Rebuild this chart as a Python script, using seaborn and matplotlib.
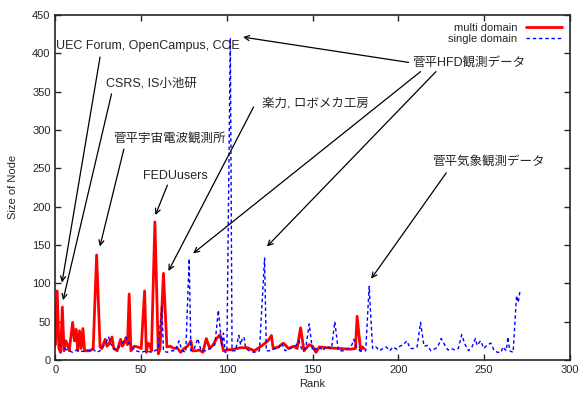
import matplotlib
matplotlib.use("Agg")
import matplotlib.pyplot as plt
import seaborn as sns
import pandas as pd

# ---- data ----
multi_rank = [0, 1, 2, 3, 4, 5, 6, 7, 8, 9, 10, 11, 12, 13, 14, 15, 16, 17, 18, 20, 22, 24, 26, 27,
              29, 30, 31, 33, 34, 36, 38, 39, 40, 41, 42, 43, 44, 46, 48, 50, 52, 53, 54, 55, 56,
              58, 60, 61, 63, 65, 67, 69, 71, 73, 75, 77, 79, 80, 82, 84, 86, 88, 90, 92, 94, 96,
              98, 100, 104, 108, 112, 116, 120, 124, 126, 127, 130, 133, 136, 139, 141, 143, 145,
              148, 150, 152, 154, 158, 166, 172, 175, 176, 178, 179, 180]
multi_size = [20, 90, 15, 10, 69, 12, 25, 20, 12, 30, 49, 25, 40, 12, 38, 15, 41, 12, 12, 12, 15, 137, 17, 15,
              27, 18, 20, 30, 15, 12, 27, 18, 22, 28, 20, 86, 12, 18, 17, 15, 90, 10, 22, 20, 12,
              180, 8, 15, 113, 17, 18, 15, 16, 10, 15, 18, 25, 12, 12, 13, 10, 28, 15, 20, 28, 33,
              12, 13, 14, 16, 16, 12, 18, 25, 32, 15, 17, 22, 15, 18, 15, 42, 12,
              20, 18, 10, 17, 16, 15, 14, 15, 57, 12, 17, 15]

single_rank = [2, 4, 6, 8, 10, 12, 14, 16, 18, 20, 22, 24, 26, 28, 30, 31, 32, 34, 36, 38, 40, 41, 43, 45,
               47, 50, 53, 56, 58, 60, 62, 63, 65, 67, 70, 72, 74, 76, 78, 79, 81, 83, 85, 88, 90, 93,
               95, 97, 98, 99, 100, 102, 103, 105, 107, 108, 109, 110, 111, 113, 116, 119, 122, 123,
               125, 128, 130, 132, 134, 137, 140, 142, 144, 146, 148, 150, 152, 154, 156, 158, 161,
               163, 165, 168, 171, 173, 174, 176, 178, 181, 183, 185, 187, 189, 191, 193, 195, 197,
               199, 201, 203, 205, 207, 209, 211, 213, 215, 217, 219, 221, 223, 225, 227, 229, 231,
               233, 235, 237, 239, 241, 243, 245, 246, 248, 250, 252, 254, 256, 258, 260, 261, 263,
               264, 265, 267, 269, 270, 271]
single_size = [20, 17, 14, 12, 10, 13, 12, 11, 13, 12, 14, 10, 12, 18, 25, 30, 22, 15, 13, 20, 25, 30, 22, 15,
               12, 10, 12, 10, 12, 15, 70, 12, 10, 12, 12, 25, 12, 10, 132, 12, 15, 28, 12, 12, 15, 20,
               65, 20, 35, 10, 10, 420, 12, 12, 32, 20, 28, 30, 15, 12, 10, 12, 133, 12,
               12, 15, 15, 22, 12, 15, 18, 25, 12, 15, 47, 12, 15, 17, 12, 18, 15,
               50, 12, 12, 15, 20, 27, 15, 12, 12, 96, 15, 17, 12, 15, 17, 12, 17,
               14, 18, 20, 25, 15, 15, 17, 49, 18, 19, 12, 14, 17, 28, 20, 13, 15,
               13, 15, 33, 20, 12, 17, 28, 19, 25, 15, 20, 22, 12, 10, 10, 17, 12,
               30, 12, 10, 84, 75, 90]

labels = ["UEC Forum, OpenCampus, COE", "CSRS, IS小池研", "菅平宇宙電波観測所", "FEDUusers",
          "楽力, ロボメカ工房", "菅平HFD観測データ", "菅平気象観測データ"]

df_multi = pd.DataFrame({"Rank": multi_rank, "Size": multi_size})
df_single = pd.DataFrame({"Rank": single_rank, "Size": single_size})

sns.set_style("ticks")
plt.rcParams["font.family"] = ["Liberation Sans", "Noto Sans CJK JP", "DejaVu Sans"]

fig = plt.figure(figsize=(5.81, 3.94), dpi=100)
ax = fig.add_axes([0.0955, 0.0863, 0.885, 0.876])

sns.lineplot(data=df_multi, x="Rank", y="Size", ax=ax, color="#ff0000", lw=2.0,
             estimator=None, label="multi domain")
sns.lineplot(data=df_single, x="Rank", y="Size", ax=ax, color="#0000ff", lw=1.0,
             estimator=None, linestyle=(0, (2.5, 2)), label="single domain")

ax.set_xlim(0, 300)
ax.set_ylim(0, 450)
ax.set_xticks(range(0, 301, 50))
ax.set_yticks(range(0, 451, 50))
ax.tick_params(direction="in", top=True, right=True, labelsize=8, length=4, width=1)
for s in ax.spines.values():
    s.set_linewidth(1.2)
ax.set_xlabel("Rank", fontsize=8, labelpad=3)
ax.set_ylabel("Size of Node", fontsize=8, labelpad=10)

leg = ax.legend(loc="upper right", frameon=False, fontsize=8, markerfirst=False,
                handlelength=3.2, borderaxespad=0.3, labelspacing=0.1)

fs = 9
arrow = dict(arrowstyle="->", color="black", lw=0.9, shrinkA=0, shrinkB=0,
             mutation_scale=9)

# text labels
ax.text(0.3, 409, labels[0], fontsize=fs, va="center", ha="left")
ax.text(29.4, 361, labels[1], fontsize=fs, va="center", ha="left")
ax.text(33.7, 289, labels[2], fontsize=fs, va="center", ha="left")
ax.text(51.2, 240, labels[3], fontsize=fs, va="center", ha="left")
ax.text(120.4, 335, labels[4], fontsize=fs, va="center", ha="left")
ax.text(208, 387, labels[5], fontsize=fs, va="center", ha="left")
ax.text(220, 259, labels[6], fontsize=fs, va="center", ha="left")

# arrows
arrows = [((26, 395), (3.8, 101)),
          ((32.7, 347), (4.4, 78)),
          ((39.9, 275), (25.9, 148)),
          ((65.3, 228), (58.3, 189)),
          ((115.6, 330), (65.9, 116)),
          ((206, 388), (109.4, 421)),
          ((213, 376), (80.3, 139)),
          ((222, 376), (123.4, 148)),
          ((228, 244), (184.2, 106))]
for start, tip in arrows:
    ax.annotate("", xy=tip, xytext=start, arrowprops=arrow)

fig.savefig("out.png", dpi=100)
